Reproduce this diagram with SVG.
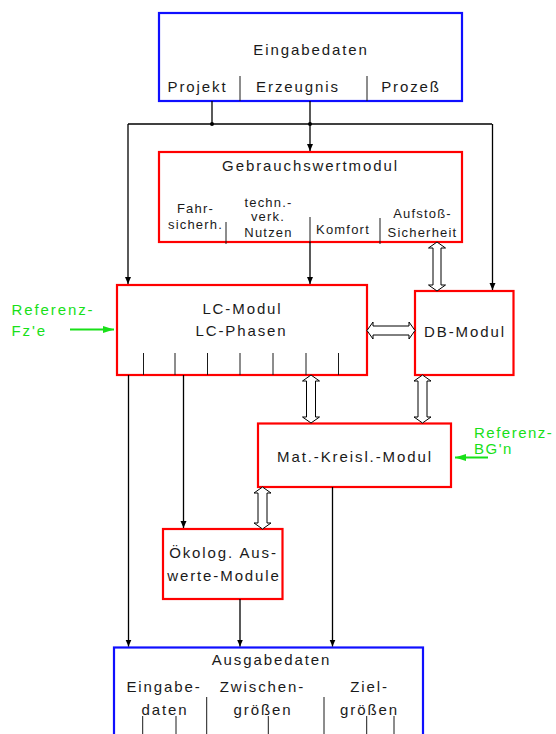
<svg xmlns="http://www.w3.org/2000/svg" width="556" height="734" viewBox="0 0 556 734">
  <style>
    text { font-family: "Liberation Sans", Arial, sans-serif; fill: #1a1a1a; }
    .t { font-size: 15px; letter-spacing: 1.9px; text-anchor: middle; }
    .s { font-size: 13px; letter-spacing: 1.2px; text-anchor: middle; }
    .g { font-size: 15px; letter-spacing: 1.9px; fill: #18e018; }
    .red { fill: #ffffff; stroke: #ff0000; stroke-width: 2.2; }
    .blue { fill: #ffffff; stroke: #0f0fff; stroke-width: 2.2; }
    .tick { stroke: #1a1a1a; stroke-width: 1; }
    .wire { stroke: #000000; stroke-width: 1.3; fill: none; }
    .dbl { fill: #ffffff; stroke: #000000; stroke-width: 1; }
    .gw { stroke: #18e018; stroke-width: 2; fill: none; }
  </style>
  <defs>
    <marker id="ah" markerWidth="8" markerHeight="8" refX="7" refY="4" orient="auto" markerUnits="userSpaceOnUse">
      <path d="M0,1 L7,4 L0,7 z" fill="#000000"/>
    </marker>
    <marker id="ahg" markerWidth="12" markerHeight="10" refX="11" refY="5" orient="auto" markerUnits="userSpaceOnUse">
      <path d="M0,1.5 L11,5 L0,8.5 z" fill="#18e018"/>
    </marker>
  </defs>

  <!-- input data -->
  <g id="eingabedaten">
    <rect class="blue" x="159" y="13" width="303" height="88"/>
    <text class="t" x="311" y="55">Eingabedaten</text>
    <line class="tick" x1="240" y1="76" x2="240" y2="101"/>
    <line class="tick" x1="367" y1="76" x2="367" y2="101"/>
    <text class="t" x="197.5" y="92">Projekt</text>
    <text class="t" x="298" y="92">Erzeugnis</text>
    <text class="t" x="411" y="92">Prozeß</text>
  </g>

  <!-- utility value module -->
  <g id="gebrauchswertmodul">
    <rect class="red" x="159" y="152" width="303" height="90"/>
    <text class="t" x="310.5" y="171">Gebrauchswertmodul</text>
    <text class="s" x="195.5" y="213">Fahr-</text>
    <text class="s" x="195.5" y="229">sicherh.</text>
    <text class="s" x="268.5" y="207">techn.-</text>
    <text class="s" x="268" y="220.5">verk.</text>
    <text class="s" x="268.5" y="236.5">Nutzen</text>
    <text class="s" x="343" y="233.5">Komfort</text>
    <text class="s" x="422.5" y="218">Aufstoß-</text>
    <text class="s" x="422.5" y="236.5">Sicherheit</text>
    <line class="tick" x1="226" y1="222" x2="226" y2="244"/>
    <line class="tick" x1="310" y1="217" x2="310" y2="242"/>
    <line class="tick" x1="380" y1="218" x2="380" y2="244"/>
  </g>

  <!-- life cycle module -->
  <g id="lc-modul">
    <rect class="red" x="117" y="285" width="250" height="90"/>
    <text class="t" x="242.5" y="314">LC-Modul</text>
    <text class="t" x="241.5" y="335.5">LC-Phasen</text>
    <g class="tick">
      <line x1="143.5" y1="353" x2="143.5" y2="375"/>
      <line x1="175" y1="353" x2="175" y2="375"/>
      <line x1="207.5" y1="353" x2="207.5" y2="375"/>
      <line x1="240" y1="353" x2="240" y2="375"/>
      <line x1="273" y1="353" x2="273" y2="375"/>
      <line x1="306" y1="353" x2="306" y2="375"/>
      <line x1="338.5" y1="353" x2="338.5" y2="375"/>
    </g>
  </g>

  <!-- database module -->
  <g id="db-modul">
    <rect class="red" x="415" y="291" width="98.5" height="84"/>
    <text class="t" x="465" y="336.5">DB-Modul</text>
  </g>

  <!-- material recycling module -->
  <g id="mat-kreisl-modul">
    <rect class="red" x="258" y="423.5" width="193" height="63.5"/>
    <text class="t" x="355" y="461.5">Mat.-Kreisl.-Modul</text>
  </g>

  <!-- ecological evaluation modules -->
  <g id="oekolog-module">
    <rect class="red" x="163" y="529" width="119.5" height="70"/>
    <text class="t" x="223.5" y="558">Ökolog. Aus-</text>
    <text class="t" x="224" y="580.5">werte-Module</text>
  </g>

  <!-- output data -->
  <g id="ausgabedaten">
    <rect class="blue" x="114" y="647.5" width="309" height="100"/>
    <text class="t" x="271.5" y="665">Ausgabedaten</text>
    <text class="t" x="164" y="691.5">Eingabe-</text>
    <text class="t" x="165" y="715">daten</text>
    <text class="t" x="262.5" y="691.5">Zwischen-</text>
    <text class="t" x="263" y="715">größen</text>
    <text class="t" x="369.5" y="691.5">Ziel-</text>
    <text class="t" x="369.5" y="715">größen</text>
    <g class="tick">
      <line x1="206.7" y1="697" x2="206.7" y2="734"/>
      <line x1="324" y1="697" x2="324" y2="734"/>
      <line x1="142.7" y1="716" x2="142.7" y2="734"/>
      <line x1="176" y1="716" x2="176" y2="734"/>
      <line x1="268.3" y1="716" x2="268.3" y2="734"/>
      <line x1="366.7" y1="716" x2="366.7" y2="734"/>
      <line x1="394" y1="716" x2="394" y2="734"/>
    </g>
  </g>

  <!-- external reference inputs -->
  <g id="referenz-fze">
    <text class="g" x="11.5" y="315">Referenz-</text>
    <text class="g" x="11.5" y="336">Fz'e</text>
  </g>
  <g id="referenz-bgn">
    <text class="g" x="474" y="437.5" style="letter-spacing:1.5px">Referenz-</text>
    <text class="g" x="474" y="453.5" style="letter-spacing:1.5px">BG'n</text>
  </g>

  <!-- connectors -->
  <g id="connectors">
    <path class="wire" d="M212,101 V124"/>
    <path class="wire" d="M310,101 V124"/>
    <path class="wire" d="M128,124 H492"/>
    <circle cx="212" cy="124" r="2" fill="#000000"/>
    <circle cx="310" cy="124" r="2" fill="#000000"/>
    <path class="wire" d="M310,124 V151" marker-end="url(#ah)"/>
    <path class="wire" d="M128,124 V284" marker-end="url(#ah)"/>
    <path class="wire" d="M492.5,124 V290" marker-end="url(#ah)"/>
    <path class="wire" d="M310,242 V284" marker-end="url(#ah)"/>
    <path class="wire" d="M128.5,375 V646.5" marker-end="url(#ah)"/>
    <path class="wire" d="M183.5,375 V528" marker-end="url(#ah)"/>
    <path class="wire" d="M240,599 V646.5" marker-end="url(#ah)"/>
    <path class="wire" d="M332.5,487 V646.5" marker-end="url(#ah)"/>

    <!-- hollow double arrows -->
    <polygon class="dbl" points="437,242 445.5,248 441,248 441,285 445.5,285 437,291 428.5,285 433,285 433,248 428.5,248"/>
    <polygon class="dbl" points="367,330.5 373,322 373,326 409,326 409,322 415,330.5 409,339 409,335 373,335 373,339"/>
    <polygon class="dbl" points="311,375 319.5,381 315.5,381 315.5,417 319.5,417 311,423 302.5,417 306.5,417 306.5,381 302.5,381"/>
    <polygon class="dbl" points="422.5,375 431,381 427,381 427,417 431,417 422.5,423 414,417 418,417 418,381 414,381"/>
    <polygon class="dbl" points="262.5,487 271,493 267,493 267,523 271,523 262.5,529 254,523 258,523 258,493 254,493"/>

    <!-- reference input arrows -->
    <path class="gw" d="M70,329.5 H114" marker-end="url(#ahg)"/>
    <path class="gw" d="M488,457.5 H455" marker-end="url(#ahg)"/>
  </g>
</svg>
